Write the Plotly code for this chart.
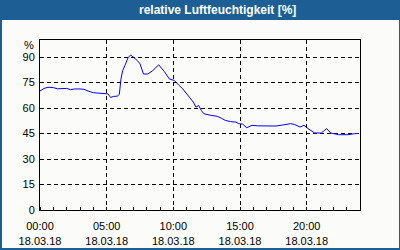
import plotly.graph_objects as go

hours = [0.0, 0.3, 0.6, 1.0, 1.3, 1.7, 2.0, 2.3, 2.6, 3.0, 3.3, 3.6, 4.0, 4.3, 4.6, 4.9,
         5.1, 5.3, 5.5, 5.8, 5.95, 6.07, 6.2, 6.37, 6.6, 6.8, 7.0, 7.3, 7.5, 7.76, 8.08,
         8.46, 8.9, 9.33, 9.7, 10.07, 10.4, 10.7, 11.2, 11.5, 11.7, 11.9, 12.1, 12.3,
         12.8, 13.3, 13.6, 13.9, 14.3, 14.7, 14.9, 15.2, 15.5, 15.9, 16.3, 16.7, 17.2,
         17.7, 18.2, 18.8, 19.1, 19.5, 19.8, 20.1, 20.6, 21.1, 21.5, 21.8, 22.4, 23.1,
         23.6, 23.9]
humidity = [70.0, 71.5, 72.2, 72.0, 71.3, 71.6, 71.5, 70.8, 71.2, 71.2, 71.0, 70.0,
            69.0, 68.8, 68.6, 68.5, 68.3, 66.2, 66.8, 67.0, 68.0, 77.0, 82.0, 85.0, 89.5,
            91.2, 90.0, 87.9, 86.0, 80.0, 80.0, 82.0, 85.4, 81.4, 77.1, 76.2, 73.5, 71.3,
            66.4, 63.5, 60.5, 61.5, 58.5, 56.6, 55.7, 55.1, 54.0, 52.7, 52.0, 51.7, 50.8,
            50.5, 48.4, 49.8, 49.5, 49.4, 49.6, 49.4, 50.0, 50.8, 50.3, 48.8, 49.8, 47.9,
            45.3, 45.3, 47.9, 45.3, 44.3, 44.3, 44.9, 45.0]

x_tickvals = [0, 5, 10, 15, 20]
x_ticktext = ["00:00<br>18.03.18", "05:00<br>18.03.18", "10:00<br>18.03.18",
              "15:00<br>18.03.18", "20:00<br>18.03.18"]
y_tickvals = [0, 15, 30, 45, 60, 75, 90]
title_text = "relative Luftfeuchtigkeit [%]"
unit_text = "%"

BLUE = "#1d5f94"
BG = "#fbfcfa"
L, R, T, B = 40, 40, 40, 40
W, H = 400, 250
PW, PH = W - L - R, H - T - B

def px(x):
    return (x - L) / PW

def py(y):
    return (H - B - y) / PH

fig = go.Figure()
fig.add_trace(go.Scatter(x=hours, y=humidity, mode="lines",
                         line=dict(color="#0000ff", width=1), hoverinfo="skip"))

font = dict(family="Liberation Sans, Arial, sans-serif", size=11, color="#000000")

fig.update_layout(
    width=W, height=H, margin=dict(l=L, r=R, t=T, b=B),
    paper_bgcolor=BG, plot_bgcolor=BG, showlegend=False, font=font,
    xaxis=dict(range=[0, 24], tickvals=x_tickvals, ticktext=x_ticktext,
               showgrid=True, gridcolor="#000000", griddash="4px,3px", gridwidth=1,
               showline=True, linecolor="#000000", linewidth=1, mirror=True,
               ticks="", zeroline=False, tickfont=font, ticklabelstandoff=6,
               automargin=False,
               minor=dict(dtick=1, tick0=0, ticks="inside", ticklen=3,
                          tickcolor="#000000", showgrid=False)),
    yaxis=dict(range=[0, 100], tickvals=y_tickvals,
               showgrid=True, gridcolor="#000000", griddash="4px,3px", gridwidth=1,
               showline=True, linecolor="#000000", linewidth=1, mirror=True,
               ticks="", zeroline=False, tickfont=font, ticklabelstandoff=2,
               automargin=False),
    shapes=[
        dict(type="rect", xref="paper", yref="paper", x0=px(0), x1=px(W), y0=py(20), y1=py(0),
             fillcolor=BLUE, line=dict(width=0), layer="below"),
        dict(type="rect", xref="paper", yref="paper", x0=px(0), x1=px(2), y0=py(H), y1=py(0),
             fillcolor=BLUE, line=dict(width=0), layer="below"),
        dict(type="rect", xref="paper", yref="paper", x0=px(W - 1), x1=px(W), y0=py(H), y1=py(0),
             fillcolor=BLUE, line=dict(width=0), layer="below"),
        dict(type="rect", xref="paper", yref="paper", x0=px(0), x1=px(W), y0=py(H), y1=py(H - 2),
             fillcolor=BLUE, line=dict(width=0), layer="below"),
    ],
    annotations=[
        dict(text="<b>" + title_text + "</b>", xref="paper", yref="paper",
             x=px(217), y=py(10), xanchor="center", yanchor="middle", showarrow=False,
             font=dict(family="Liberation Sans, Arial, sans-serif", size=12, color="#ffffff")),
        dict(text=unit_text, xref="paper", yref="paper", x=px(36), y=py(45),
             xanchor="right", yanchor="middle", showarrow=False, font=font),
    ],
)

fig.write_html("out.html")
